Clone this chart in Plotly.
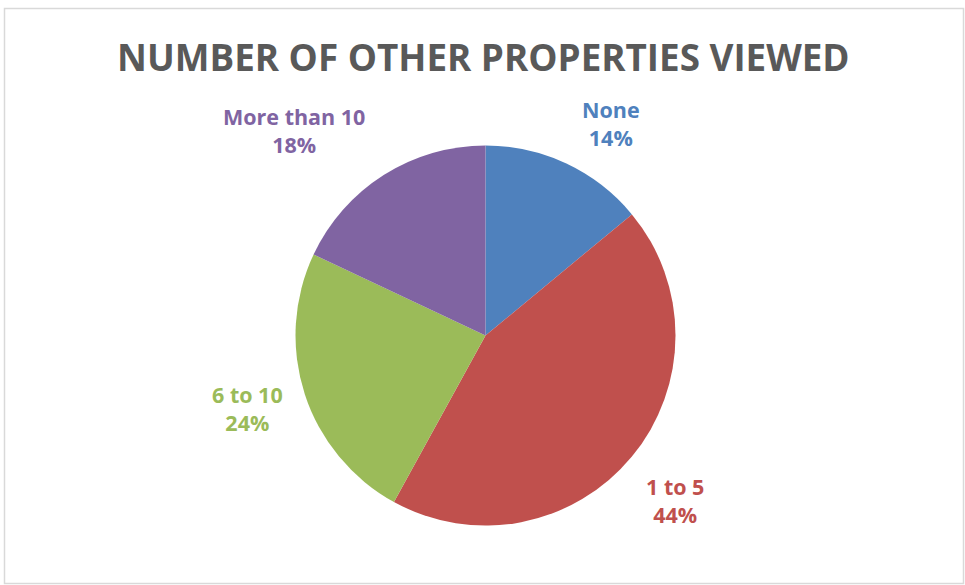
import plotly.graph_objects as go

# Survey answers: how many other properties were viewed
categories = ["None", "1 to 5", "6 to 10", "More than 10"]
shares = [14, 44, 24, 18]
slice_colors = ["#4F81BD", "#C0504D", "#9BBB59", "#8064A2"]

W, H = 965, 585
FONT = "Open Sans"

# Pie geometry in pixels
cx, cy, r = 485.5, 335.5, 190


def px_x(x):
    return x / W


def px_y(y):
    return 1 - y / H


fig = go.Figure(
    go.Pie(
        labels=categories,
        values=shares,
        marker=dict(colors=slice_colors, line=dict(width=0)),
        sort=False,
        direction="clockwise",
        rotation=0,
        textinfo="none",
        hoverinfo="label+percent",
        showlegend=False,
        domain=dict(x=[px_x(cx - r), px_x(cx + r)], y=[px_y(cy + r), px_y(cy - r)]),
    )
)

# Outside data labels (category name + percentage)
label_pos = [(611, 123), (675, 500), (247, 408), (294, 130)]
annotations = []
total = sum(shares)
for name, val, col, (lx, ly) in zip(categories, shares, slice_colors, label_pos):
    annotations.append(
        dict(
            x=px_x(lx), y=px_y(ly), xref="paper", yref="paper",
            text=f"{name}<br>{round(100 * val / total)}%",
            showarrow=False, xanchor="center", yanchor="middle", align="center",
            font=dict(family=FONT, size=21.5, color=col, weight="bold"),
        )
    )

# Chart title
annotations.append(
    dict(
        x=px_x(484), y=px_y(57), xref="paper", yref="paper",
        text="NUMBER OF OTHER PROPERTIES VIEWED",
        showarrow=False, xanchor="center", yanchor="middle",
        font=dict(family=FONT, size=36.8, color="#595959", weight="bold"),
    )
)

fig.update_layout(
    width=W, height=H,
    margin=dict(l=0, r=0, t=0, b=0),
    paper_bgcolor="white",
    annotations=annotations,
    shapes=[
        dict(
            type="rect", xref="paper", yref="paper",
            x0=px_x(4.5), x1=px_x(963.5), y0=px_y(583.5), y1=px_y(8.5),
            line=dict(color="#D9D9D9", width=1.5), fillcolor="rgba(0,0,0,0)",
        )
    ],
)

fig.write_html("out.html")
